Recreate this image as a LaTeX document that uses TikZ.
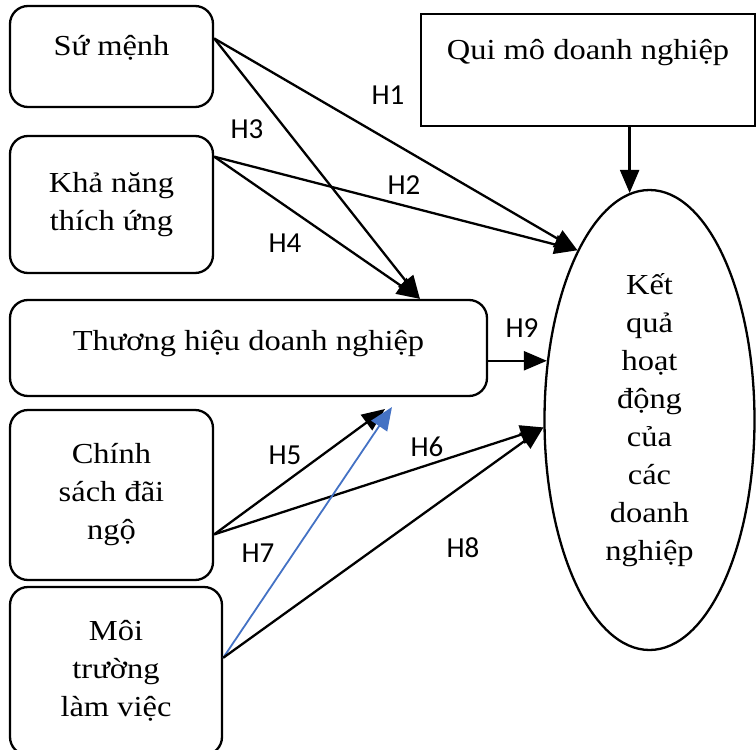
\documentclass[tikz,border=0pt]{standalone}
\usepackage{fontspec}
\setmainfont{Liberation Serif}[FakeStretch=1.12]
\newfontfamily\hfont{Carlito}
\usetikzlibrary{arrows.meta,shapes.geometric}
\definecolor{linkblue}{RGB}{68,114,196}

\begin{document}
\begin{tikzpicture}[x=1pt,y=-1pt,>={Triangle[length=23pt,width=19pt]},
  box/.style={draw,line width=2.3pt,rounded corners=18pt,align=center,
    inner sep=0pt,font=\fontsize{29}{38}\selectfont},
  conn/.style={->,line width=2.3pt},
  hlab/.style={font=\hfont\fontsize{29}{32}\selectfont}]
  \useasboundingbox (0,0) rectangle (756,750);
  \node[box,minimum width=203pt,minimum height=101pt,text depth=22pt] (sm) at (111.5,56.5) {Sứ mệnh};
  \node[box,minimum width=203pt,minimum height=137pt] (kn) at (111.5,204.5) {Khả năng\\thích ứng};
  \node[box,minimum width=477pt,minimum height=96pt,text depth=16pt] (th) at (248.5,348) {Thương hiệu doanh nghiệp};
  \node[box,minimum width=203pt,minimum height=170pt] (cs) at (111.5,495) {Chính\\sách đãi\\ngộ};
  \node[box,minimum width=212pt,minimum height=168pt] (mt) at (116,671) {Môi\\trường\\làm việc};
  \node[box,rounded corners=0pt,minimum width=334pt,minimum height=112pt,text depth=42pt] (qm) at (588,70) {Qui mô doanh nghiệp};
  \node[box,ellipse,minimum width=210pt,minimum height=460pt] (kq) at (649.5,420)
    {Kết\\quả\\hoạt\\động\\của\\các\\doanh\\nghiệp};
  \coordinate (h5end) at (385,409);
  \coordinate (h7end) at (392,407);
  \draw[conn] (sm.10.3) -- (kq.113.7);
  \draw[conn] (sm.10.3) -- (th.16.3);
  \draw[conn] (kn.25.1) -- (kq.113.7);
  \draw[conn] (kn.25.1) -- (th.16.3);
  \draw[conn] (qm.south -| kq.95.9) -- (kq.95.9);
  \draw[conn] (kq.150.3 -| th.east) -- (kq.150.3);
  \draw[conn] (cs.339.5) -- (h5end);
  \draw[conn] (cs.339.5) -- (kq.184.3);
  \draw[conn,linkblue,line width=1.8pt] (mt.7.5) -- (h7end);
  \draw[conn] (mt.7.5) -- (kq.184.3);
  \node[hlab] (h1) at (388,95) {H1};
  \node[hlab] (h2) at (404,185) {H2};
  \node[hlab] (h3) at (247,129) {H3};
  \node[hlab] (h4) at (285,243) {H4};
  \node[hlab] (h5) at (285,455) {H5};
  \node[hlab] (h6) at (427,447) {H6};
  \node[hlab] (h7) at (258,553) {H7};
  \node[hlab] (h8) at (463,548) {H8};
  \node[hlab] (h9) at (522,328) {H9};
\end{tikzpicture}
\end{document}
